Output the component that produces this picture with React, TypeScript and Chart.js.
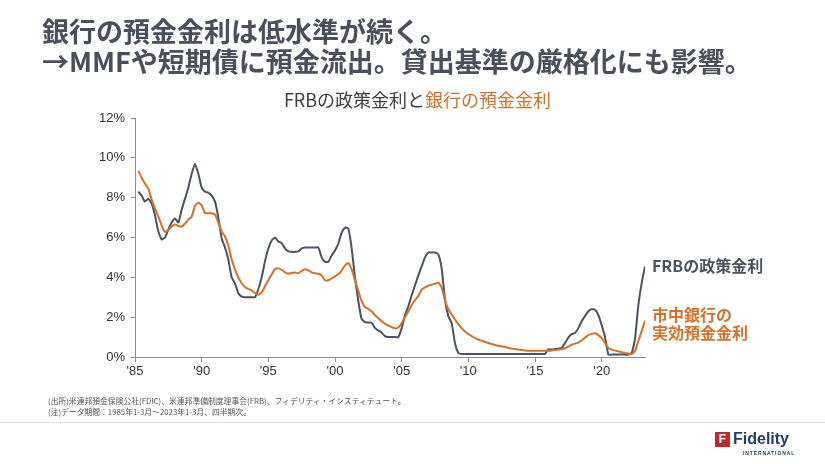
import React, { useEffect, useRef } from "react";
import { Chart, registerables } from "chart.js";

Chart.register(...registerables);

// Quarterly data, 1985 Q1 … 2023 Q1 (plotted at quarter end)
const startYear = 1985;

const fedFunds: number[] = [
  8.3, 8.1, 7.8, 7.95, // 1985
  7.7, 7.1, 6.3, 5.9, // 1986
  6.0, 6.4, 6.75, 6.95, // 1987
  6.75, 7.4, 7.95, 8.5, // 1988
  9.2, 9.7, 9.2, 8.5, // 1989
  8.3, 8.25, 8.1, 7.8, // 1990
  7.0, 5.95, 5.5, 4.9, // 1991
  4.0, 3.7, 3.2, 3.03, // 1992
  3.0, 3.0, 3.0, 3.0, // 1993
  3.4, 4.0, 4.8, 5.45, // 1994
  5.85, 6.0, 5.8, 5.72, // 1995
  5.45, 5.3, 5.28, 5.28, // 1996
  5.3, 5.45, 5.5, 5.5, // 1997
  5.5, 5.5, 5.5, 5.0, // 1998
  4.78, 4.78, 5.1, 5.35, // 1999
  5.7, 6.25, 6.5, 6.45, // 2000
  5.45, 4.0, 2.8, 1.9, // 2001
  1.75, 1.73, 1.72, 1.45, // 2002
  1.33, 1.22, 1.05, 1.0, // 2003
  1.0, 1.0, 1.0, 1.45, // 2004
  2.1, 2.55, 3.1, 3.6, // 2005
  4.1, 4.55, 5.0, 5.25, // 2006
  5.25, 5.25, 5.15, 4.45, // 2007
  2.9, 2.05, 1.7, 0.7, // 2008
  0.2, 0.15, 0.15, 0.15, // 2009
  0.15, 0.15, 0.15, 0.15, // 2010
  0.15, 0.15, 0.15, 0.15, // 2011
  0.15, 0.15, 0.15, 0.15, // 2012
  0.15, 0.15, 0.15, 0.15, // 2013
  0.15, 0.15, 0.15, 0.15, // 2014
  0.15, 0.15, 0.15, 0.38, // 2015
  0.38, 0.4, 0.42, 0.45, // 2016
  0.7, 0.98, 1.15, 1.2, // 2017
  1.45, 1.8, 2.05, 2.3, // 2018
  2.4, 2.38, 2.1, 1.6, // 2019
  1.0, 0.12, 0.12, 0.12, // 2020
  0.12, 0.12, 0.12, 0.12, // 2021
  0.2, 0.9, 2.6, 3.7, // 2022
  4.55, // 2023
];

const depositRate: number[] = [
  9.35, 9.0, 8.7, 8.45, // 1985
  7.9, 7.45, 7.05, 6.6, // 1986
  6.28, 6.38, 6.55, 6.65, // 1987
  6.58, 6.55, 6.7, 6.9, // 1988
  7.05, 7.6, 7.75, 7.62, // 1989
  7.22, 7.22, 7.22, 7.15, // 1990
  6.75, 6.3, 6.05, 5.6, // 1991
  4.9, 4.4, 4.0, 3.7, // 1992
  3.5, 3.42, 3.33, 3.22, // 1993
  3.12, 3.25, 3.55, 3.85, // 1994
  4.15, 4.42, 4.45, 4.38, // 1995
  4.25, 4.18, 4.22, 4.24, // 1996
  4.2, 4.32, 4.4, 4.35, // 1997
  4.25, 4.2, 4.18, 4.1, // 1998
  3.85, 3.85, 3.95, 4.05, // 1999
  4.15, 4.35, 4.6, 4.72, // 2000
  4.4, 3.85, 3.3, 2.8, // 2001
  2.5, 2.42, 2.28, 2.1, // 2002
  1.95, 1.8, 1.67, 1.57, // 2003
  1.5, 1.44, 1.48, 1.7, // 2004
  2.0, 2.3, 2.6, 2.85, // 2005
  3.07, 3.38, 3.5, 3.58, // 2006
  3.63, 3.68, 3.73, 3.5, // 2007
  2.85, 2.4, 2.15, 1.88, // 2008
  1.65, 1.45, 1.28, 1.15, // 2009
  1.05, 0.95, 0.88, 0.82, // 2010
  0.75, 0.7, 0.65, 0.6, // 2011
  0.56, 0.53, 0.5, 0.46, // 2012
  0.42, 0.4, 0.37, 0.35, // 2013
  0.33, 0.32, 0.32, 0.32, // 2014
  0.32, 0.32, 0.32, 0.32, // 2015
  0.33, 0.35, 0.37, 0.4, // 2016
  0.43, 0.52, 0.62, 0.67, // 2017
  0.72, 0.84, 0.97, 1.1, // 2018
  1.16, 1.19, 1.1, 0.95, // 2019
  0.7, 0.45, 0.37, 0.32, // 2020
  0.28, 0.24, 0.21, 0.18, // 2021
  0.15, 0.3, 0.8, 1.3, // 2022
  1.82, // 2023
];

const tickYears: number[] = [1985, 1990, 1995, 2000, 2005, 2010, 2015, 2020];
const yMin = 0;
const yMax = 12;
const yStep = 2;

const FRB_COLOR = "#4b5261";
const DEP_COLOR = "#d6702a";
const TEXT_DARK = "#4a4f5b";
const CJK = '"Noto Sans CJK JP", "Noto Sans", sans-serif';

function toPoints(values: number[]) {
  return values.map((v, i) => ({ x: startYear + 0.25 * (i + 1), y: v }));
}

function App() {
  const canvasRef = useRef<HTMLCanvasElement | null>(null);

  useEffect(() => {
    const canvas = canvasRef.current;
    if (!canvas) return;
    const chart = new Chart(canvas, {
      type: "line",
      data: {
        datasets: [
          {
            label: "市中銀行の実効預金金利",
            data: toPoints(depositRate),
            borderColor: DEP_COLOR,
            borderWidth: 2,
            pointRadius: 0,
            tension: 0.15,
            fill: false,
          },
          {
            label: "FRBの政策金利",
            data: toPoints(fedFunds),
            borderColor: FRB_COLOR,
            borderWidth: 2,
            pointRadius: 0,
            tension: 0.15,
            fill: false,
          },
        ],
      },
      options: {
        animation: false,
        responsive: false,
        maintainAspectRatio: false,
        layout: { padding: { left: 85, right: 180, top: 118, bottom: 82 } },
        plugins: {
          legend: { display: false },
          tooltip: { enabled: false },
          title: { display: false },
        },
        scales: {
          x: {
            type: "linear",
            min: startYear,
            max: startYear + 0.25 * fedFunds.length,
            afterBuildTicks: (scale: any) => {
              scale.ticks = tickYears.map((v) => ({ value: v }));
            },
            afterFit: (scale: any) => {
              scale.height = 25;
            },
            grid: {
              display: true,
              drawOnChartArea: false,
              drawTicks: true,
              tickLength: 5,
              color: "#8c8c8c",
            },
            border: { display: true, color: "#8c8c8c", width: 1 },
            ticks: {
              autoSkip: false,
              maxRotation: 0,
              padding: 2,
              color: "#333333",
              font: { family: '"Liberation Sans", Arial, sans-serif', size: 13 },
              callback: (v: any) => "'" + String(v).slice(2),
            },
          },
          y: {
            min: yMin,
            max: yMax,
            afterFit: (scale: any) => {
              scale.width = 50;
            },
            grid: {
              display: true,
              drawOnChartArea: false,
              drawTicks: true,
              tickLength: 4,
              color: "#8c8c8c",
            },
            border: { display: true, color: "#8c8c8c", width: 1 },
            ticks: {
              stepSize: yStep,
              padding: 6,
              color: "#333333",
              font: { family: '"Liberation Sans", Arial, sans-serif', size: 13 },
              callback: (v: any) => v + "%",
            },
          },
        },
      },
    });
    return () => chart.destroy();
  }, []);

  return (
    <div
      style={{
        position: "absolute",
        left: 0,
        top: 0,
        width: 825,
        height: 464,
        background: "#ffffff",
        overflow: "hidden",
        fontFamily: CJK,
      }}
    >
      <canvas
        ref={canvasRef}
        width={825}
        height={464}
        style={{ position: "absolute", left: 0, top: 0, width: 825, height: 464 }}
      />
      <div
        style={{
          position: "absolute",
          left: 42,
          top: 16,
          fontSize: 27,
          lineHeight: "30px",
          fontWeight: 700,
          color: TEXT_DARK,
          whiteSpace: "nowrap",
        }}
      >
        <div>銀行の預金金利は低水準が続く。</div>
        <div>→MMFや短期債に預金流出。貸出基準の厳格化にも影響。</div>
      </div>
      <div
        style={{
          position: "absolute",
          left: 0,
          width: 835,
          top: 88,
          textAlign: "center",
          fontSize: 18,
          lineHeight: "22px",
          color: "#404040",
          whiteSpace: "nowrap",
        }}
      >
        FRBの政策金利と<span style={{ color: DEP_COLOR }}>銀行の預金金利</span>
      </div>
      <div
        style={{
          position: "absolute",
          left: 652,
          top: 255,
          fontSize: 16,
          lineHeight: "20px",
          fontWeight: 700,
          color: FRB_COLOR,
          whiteSpace: "nowrap",
        }}
      >
        FRBの政策金利
      </div>
      <div
        style={{
          position: "absolute",
          left: 652,
          top: 305,
          fontSize: 16,
          lineHeight: "18px",
          fontWeight: 700,
          color: DEP_COLOR,
          whiteSpace: "nowrap",
        }}
      >
        <div>市中銀行の</div>
        <div>実効預金金利</div>
      </div>
      <div
        style={{
          position: "absolute",
          left: 48,
          top: 396,
          fontSize: 7.8,
          lineHeight: "10.5px",
          color: "#555555",
          whiteSpace: "nowrap",
        }}
      >
        <div>(出所)米連邦預金保険公社(FDIC)、米連邦準備制度理事会(FRB)、フィデリティ・インスティテュート。</div>
        <div>(注)データ期間：1985年1-3月～2023年1-3月、四半期次。</div>
      </div>
      <div
        style={{
          position: "absolute",
          left: 0,
          top: 422,
          width: 825,
          height: 1,
          background: "#e3e3e3",
        }}
      />
      <div
        style={{
          position: "absolute",
          left: 715,
          top: 432,
          width: 15,
          height: 15,
          background: "#c4262e",
          color: "#ffffff",
          fontFamily: '"Liberation Sans", Arial, sans-serif',
          fontWeight: 700,
          fontSize: 12,
          lineHeight: "15px",
          textAlign: "center",
        }}
      >
        F
      </div>
      <div
        style={{
          position: "absolute",
          left: 733,
          top: 430,
          fontFamily: '"Liberation Sans", Arial, sans-serif',
          fontWeight: 700,
          fontSize: 16,
          lineHeight: "18px",
          color: "#1f3f6b",
          whiteSpace: "nowrap",
        }}
      >
        Fidelity
      </div>
      <div
        style={{
          position: "absolute",
          left: 743,
          top: 450,
          fontFamily: '"Liberation Sans", Arial, sans-serif',
          fontWeight: 700,
          fontSize: 5,
          lineHeight: "6px",
          letterSpacing: "0.9px",
          color: "#1f3f6b",
          whiteSpace: "nowrap",
        }}
      >
        INTERNATIONAL
      </div>
    </div>
  );
}

export default App;
